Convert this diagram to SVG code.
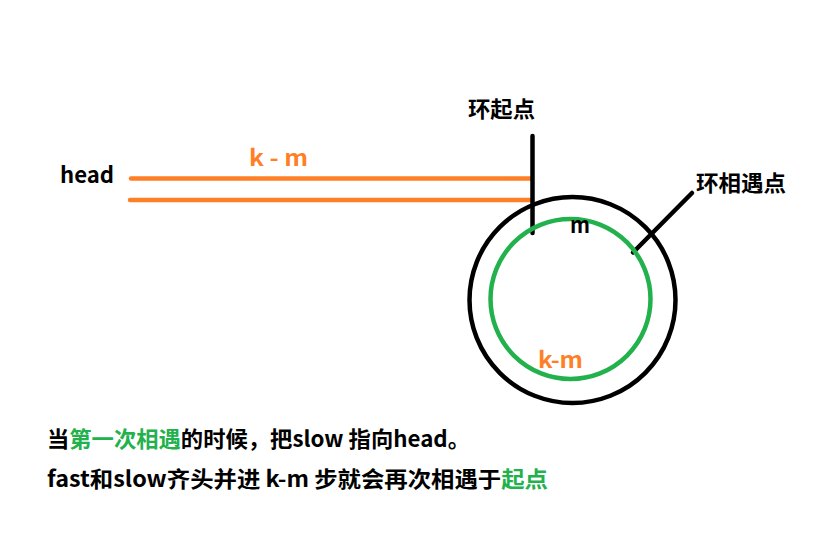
<svg xmlns="http://www.w3.org/2000/svg" width="838" height="558" viewBox="0 0 838 558">
<style>
text{font-family:"Microsoft YaHei","Noto Sans CJK SC","Noto Sans",sans-serif;font-weight:bold;font-size:22px}
.k{fill:#000}
.o{fill:#FF7F27}
.g{fill:#22B14C}
.ln{stroke-linecap:round;fill:none}
</style>
<rect width="838" height="558" fill="#fff"/>
<g id="connectors">
<line class="ln" x1="131" y1="178.5" x2="532" y2="178.5" stroke="#FF7F27" stroke-width="4.5"/>
<line class="ln" x1="130" y1="200" x2="532" y2="200" stroke="#FF7F27" stroke-width="4.5"/>
<line class="ln" x1="532.5" y1="136" x2="532.5" y2="233" stroke="#000" stroke-width="4.5"/>
<line class="ln" x1="692" y1="193" x2="633" y2="252.5" stroke="#000" stroke-width="4.5"/>
</g>
<g id="outer-ring"><circle cx="572.5" cy="300" r="103" fill="none" stroke="#000" stroke-width="4.5"/></g>
<g id="inner-ring"><circle cx="570.5" cy="299" r="80" fill="none" stroke="#22B14C" stroke-width="4.5"/></g>
<g id="head"><text class="k" x="60" y="182.5" textLength="54" lengthAdjust="spacingAndGlyphs">head</text></g>
<g id="km-top"><text class="o" x="249" y="166" textLength="59" lengthAdjust="spacingAndGlyphs">k - m</text></g>
<g id="ring-start"><text class="k" x="468" y="117" textLength="67" lengthAdjust="spacingAndGlyphs">环起点</text></g>
<g id="meet-point"><text class="k" x="696" y="191" textLength="90" lengthAdjust="spacingAndGlyphs">环相遇点</text></g>
<g id="m-label"><text class="k" x="570" y="233" textLength="20" lengthAdjust="spacingAndGlyphs">m</text></g>
<g id="km-ring"><text class="o" x="538" y="368" textLength="45" lengthAdjust="spacingAndGlyphs">k-m</text></g>
<g id="note1"><text class="k" x="47" y="446.5" textLength="423" lengthAdjust="spacingAndGlyphs">当<tspan class="g">第一次相遇</tspan>的时候，把slow 指向head。</text></g>
<g id="note2"><text class="k" x="47" y="487" textLength="501" lengthAdjust="spacingAndGlyphs">fast和slow齐头并进 k-m 步就会再次相遇于<tspan class="g">起点</tspan></text></g>
</svg>
